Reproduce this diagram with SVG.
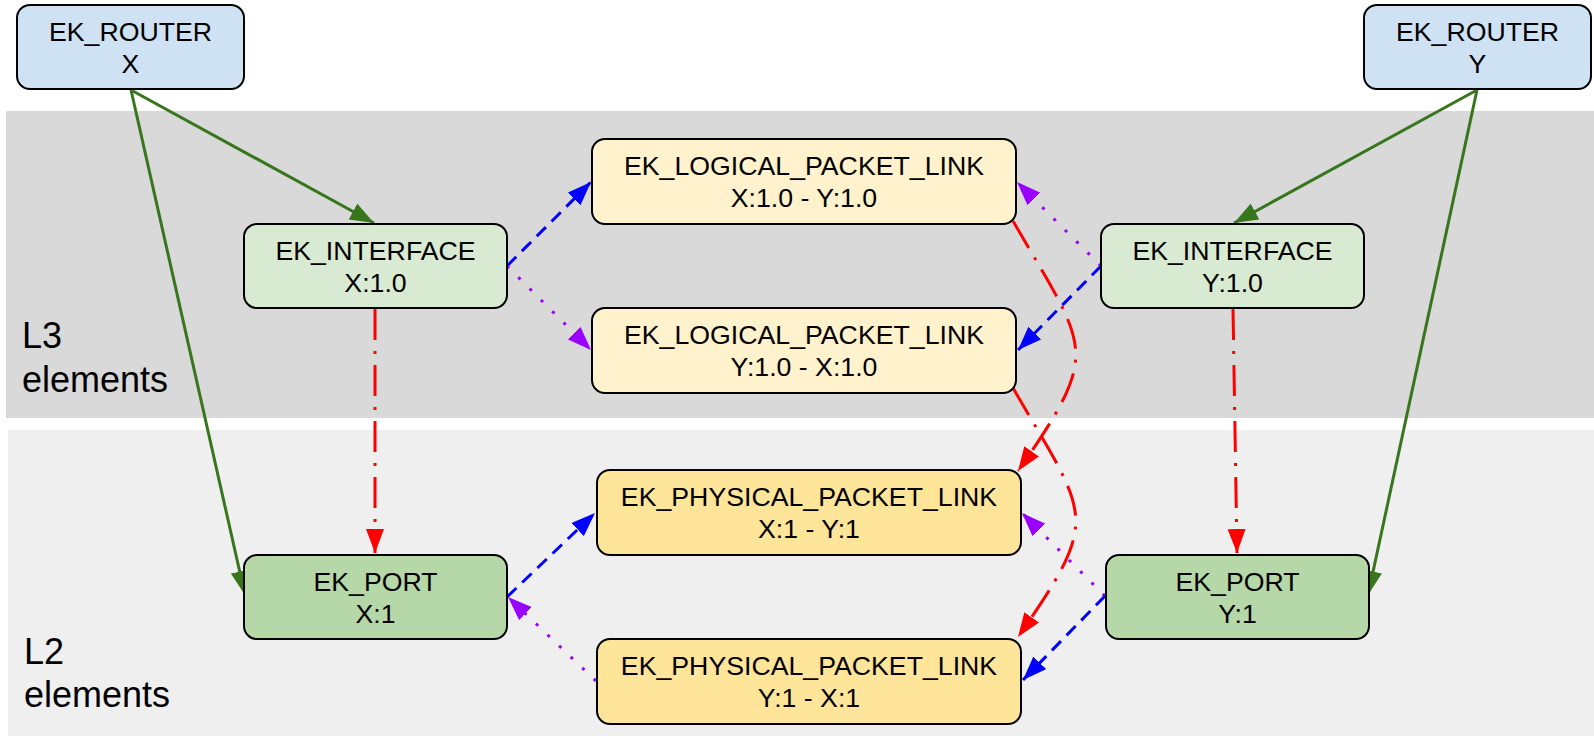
<svg xmlns="http://www.w3.org/2000/svg" width="1594" height="736" viewBox="0 0 1594 736">
<defs>
<style>
.node rect { stroke:#000; stroke-width:2; }
.node text { font-family:"Liberation Sans", Arial, sans-serif; font-size:26.7px; fill:#000; text-anchor:middle; }
.lbl { font-family:"Liberation Sans", Arial, sans-serif; font-size:36px; fill:#000; }
.c { fill:none; stroke-width:3; }
.green { stroke:#38761d; }
.red { stroke:#ff0000; stroke-dasharray:31 11 3 11; }
.blue { stroke:#0000ff; stroke-dasharray:13 8; }
.purple { stroke:#9900ff; stroke-dasharray:3 13; }
.router { fill:#cfe2f3; }
.iface { fill:#d9ead3; }
.logical { fill:#fff2cc; }
.physical { fill:#ffe599; }
.port { fill:#b6d7a8; }
</style>
<marker id="ag" viewBox="0 0 8 6" refX="8" refY="3" markerWidth="8" markerHeight="6" orient="auto" markerUnits="strokeWidth"><path d="M0,0L8,3L0,6z" fill="#38761d"/></marker>
<marker id="ar" viewBox="0 0 8 6" refX="8" refY="3" markerWidth="8" markerHeight="6" orient="auto" markerUnits="strokeWidth"><path d="M0,0L8,3L0,6z" fill="#ff0000"/></marker>
<marker id="ab" viewBox="0 0 8 6" refX="8" refY="3" markerWidth="8" markerHeight="6" orient="auto" markerUnits="strokeWidth"><path d="M0,0L8,3L0,6z" fill="#0000ff"/></marker>
<marker id="ap" viewBox="0 0 8 6" refX="8" refY="3" markerWidth="8" markerHeight="6" orient="auto" markerUnits="strokeWidth"><path d="M0,0L8,3L0,6z" fill="#9900ff"/></marker>
</defs>

<g id="bands">
<rect x="6" y="111" width="1588" height="307" fill="#d9d9d9"/>
<rect x="8" y="430" width="1586" height="306" fill="#efefef"/>
<text class="lbl" x="22" y="348">L3</text>
<text class="lbl" x="22" y="392">elements</text>
<text class="lbl" x="24" y="664">L2</text>
<text class="lbl" x="24" y="707">elements</text>
</g>

<g id="connectors">
<path class="c green" d="M131,90 L374,223" marker-end="url(#ag)"/>
<path class="c green" d="M131,90 L245,595" marker-end="url(#ag)"/>
<path class="c green" d="M1477,90 L1234,223" marker-end="url(#ag)"/>
<path class="c green" d="M1477,90 L1368,595" marker-end="url(#ag)"/>
<path class="c red" d="M375,309 L375,553" marker-end="url(#ar)"/>
<path class="c red" d="M1233,309 L1237,553" marker-end="url(#ar)"/>
<path class="c red" d="M1013,221 C1088,351 1103,349 1018,471" marker-end="url(#ar)"/>
<path class="c red" d="M1013,388 C1088,518 1103,515 1018,637" marker-end="url(#ar)"/>
<path class="c blue" d="M507,266 L591,182" marker-end="url(#ab)"/>
<path class="c purple" d="M507,266 L591,350" marker-end="url(#ap)"/>
<path class="c blue" d="M1101,266 L1018,350" marker-end="url(#ab)"/>
<path class="c purple" d="M1101,266 L1017,182" marker-end="url(#ap)"/>
<path class="c blue" d="M507,597 L595,513" marker-end="url(#ab)"/>
<path class="c purple" d="M596,681 L508,597" marker-end="url(#ap)"/>
<path class="c purple" d="M1105,596 L1022,513" marker-end="url(#ap)"/>
<path class="c blue" d="M1105,596 L1023,680" marker-end="url(#ab)"/>
</g>

<g id="router-x" class="node"><rect class="router" x="17" y="5" width="227" height="84" rx="13"/><text x="130.5" y="41">EK_ROUTER</text><text x="130.5" y="73">X</text></g>
<g id="router-y" class="node"><rect class="router" x="1364" y="5" width="227" height="84" rx="13"/><text x="1477.5" y="41">EK_ROUTER</text><text x="1477.5" y="73">Y</text></g>
<g id="interface-x" class="node"><rect class="iface" x="244" y="224" width="263" height="84" rx="13"/><text x="375.5" y="260">EK_INTERFACE</text><text x="375.5" y="292">X:1.0</text></g>
<g id="interface-y" class="node"><rect class="iface" x="1101" y="224" width="263" height="84" rx="13"/><text x="1232.5" y="260">EK_INTERFACE</text><text x="1232.5" y="292">Y:1.0</text></g>
<g id="logical-xy" class="node"><rect class="logical" x="592" y="139" width="424" height="85" rx="13"/><text x="804" y="175">EK_LOGICAL_PACKET_LINK</text><text x="804" y="207">X:1.0 - Y:1.0</text></g>
<g id="logical-yx" class="node"><rect class="logical" x="592" y="308" width="424" height="85" rx="13"/><text x="804" y="344">EK_LOGICAL_PACKET_LINK</text><text x="804" y="376">Y:1.0 - X:1.0</text></g>
<g id="physical-xy" class="node"><rect class="physical" x="597" y="470" width="424" height="85" rx="13"/><text x="809" y="506">EK_PHYSICAL_PACKET_LINK</text><text x="809" y="538">X:1 - Y:1</text></g>
<g id="physical-yx" class="node"><rect class="physical" x="597" y="639" width="424" height="85" rx="13"/><text x="809" y="675">EK_PHYSICAL_PACKET_LINK</text><text x="809" y="707">Y:1 - X:1</text></g>
<g id="port-x" class="node"><rect class="port" x="244" y="555" width="263" height="84" rx="13"/><text x="375.5" y="591">EK_PORT</text><text x="375.5" y="623">X:1</text></g>
<g id="port-y" class="node"><rect class="port" x="1106" y="555" width="263" height="84" rx="13"/><text x="1237.5" y="591">EK_PORT</text><text x="1237.5" y="623">Y:1</text></g>
</svg>
